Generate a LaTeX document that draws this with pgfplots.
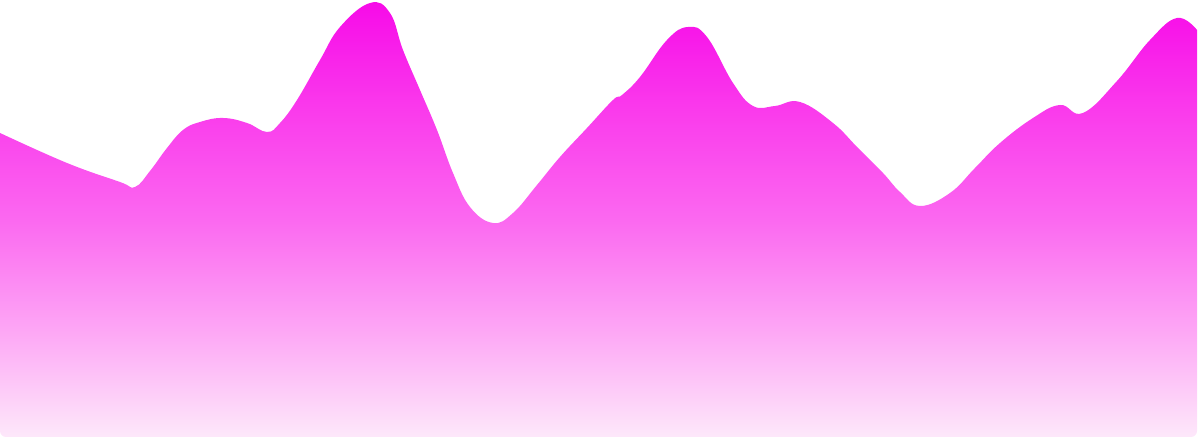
\documentclass[border=0pt]{standalone}
\usepackage{pgfplots}
\pgfplotsset{compat=1.18}
\definecolor{c0}{HTML}{FDE8FA}
\definecolor{c1}{HTML}{FDA5F5}
\definecolor{c2}{HTML}{FB68F0}
\definecolor{c3}{HTML}{FA3AEC}
\definecolor{c4}{HTML}{F70AE8}
\pgfdeclareverticalshading{areashade}{100bp}{color(0bp)=(c0); color(25bp)=(c0);
  color(37.5bp)=(c1); color(50bp)=(c2); color(62.5bp)=(c3);
  color(75bp)=(c4); color(100bp)=(c4)}

\begin{document}
\begin{tikzpicture}
\useasboundingbox (0,0) rectangle (12,4.37);
\begin{scope}
\clip[rounded corners=0.6mm] (0,0) rectangle (11.97,4.37);
\begin{axis}[at={(0,0)}, anchor=south west,
    scale only axis, width=12cm, height=4.37cm,
    xmin=0, xmax=1200, ymin=0, ymax=437,
    hide axis, clip=true,
    ]
    % values: x in px, y = 437 - px from top
    \addplot[draw=none, smooth, tension=0.7,
        shade, shading=areashade] coordinates {
(0,304)
(67,274)
(120,255)
(135,250)
(150,266)
(167,289)
(183,307)
(200,315)
(223,319)
(247,314)
(267,305)
(280,314)
(297,337)
(320,377)
(340,410)
(370,434)
(390,424)
(403,387)
(420,347)
(437,307)
(453,264)
(470,230)
(493,214)
(513,224)
(537,252)
(560,280)
(587,309)
(613,337)
(622,342)
(640,360)
(667,397)
(688,410)
(707,400)
(733,354)
(753,331)
(775,331)
(800,335)
(833,314)
(858,289)
(883,264)
(900,245)
(920,231)
(950,244)
(975,269)
(1000,294)
(1033,319)
(1060,332)
(1083,324)
(1117,356)
(1150,397)
(1177,419)
(1197,407)
    } \closedcycle;
\end{axis}
\end{scope}
\end{tikzpicture}
\end{document}
